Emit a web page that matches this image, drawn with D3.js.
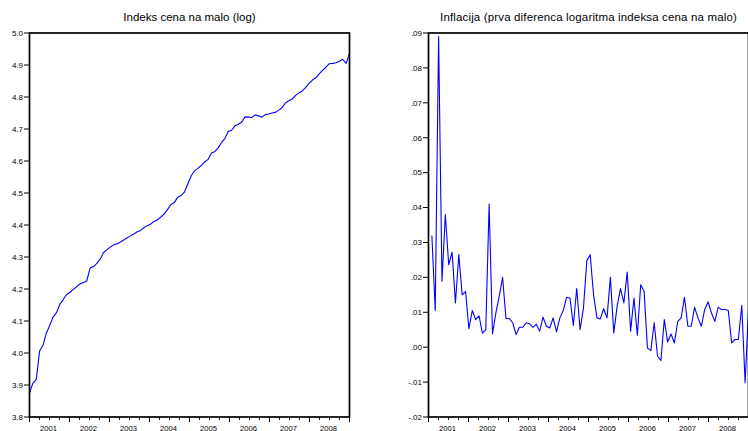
<!DOCTYPE html>
<html><head><meta charset="utf-8">
<script src="https://cdn.jsdelivr.net/npm/d3@7"></script>
<style>
body{margin:0;background:#fff}
svg{display:block}
text{font-family:"Liberation Sans",Arial,Helvetica,sans-serif;fill:#000}
</style>
</head><body>
<svg id="c" width="748" height="431"></svg>
<script>
// ---- data (monthly, 2001M01 .. 2008M12) ----
const years = ["2001","2002","2003","2004","2005","2006","2007","2008"];

const logIndex = [
 3.874,3.906,3.917,4.006,4.024,4.062,4.086,4.113,4.126,4.152,4.167,4.183,
 4.189,4.199,4.207,4.216,4.220,4.225,4.266,4.270,4.280,4.294,4.314,4.323,
 4.331,4.338,4.341,4.347,4.353,4.360,4.366,4.372,4.379,4.383,4.392,4.398,
 4.403,4.412,4.416,4.425,4.435,4.449,4.464,4.470,4.487,4.492,4.503,4.528,
 4.554,4.569,4.577,4.586,4.597,4.605,4.625,4.629,4.641,4.658,4.670,4.692,
 4.696,4.710,4.714,4.722,4.738,4.737,4.736,4.744,4.741,4.737,4.745,4.747,
 4.750,4.752,4.759,4.767,4.782,4.788,4.794,4.805,4.813,4.819,4.830,4.843,
 4.853,4.860,4.872,4.883,4.893,4.904,4.905,4.907,4.912,4.918,4.905,4.936
];

const inflation = [
 null,0.0320,0.0105,0.0890,0.0189,0.0380,0.0236,0.0272,0.0127,0.0265,0.0150,0.0160,
 0.0053,0.0105,0.0079,0.0090,0.0040,0.0050,0.0410,0.0038,0.0098,0.0146,0.0200,0.0082,
 0.0082,0.0070,0.0036,0.0057,0.0057,0.0070,0.0067,0.0057,0.0066,0.0046,0.0086,0.0060,
 0.0055,0.0084,0.0044,0.0084,0.0105,0.0143,0.0141,0.0062,0.0168,0.0050,0.0112,0.0248,
 0.0265,0.0150,0.0084,0.0081,0.0110,0.0084,0.0200,0.0041,0.0117,0.0168,0.0127,0.0215,
 0.0046,0.0141,0.0034,0.0179,0.0160,-0.0002,-0.0010,0.0070,-0.0026,-0.0038,0.0079,0.0015,
 0.0038,0.0012,0.0074,0.0084,0.0143,0.0060,0.0060,0.0114,0.0084,0.0060,0.0108,0.0130,
 0.0098,0.0074,0.0114,0.0108,0.0108,0.0105,0.0012,0.0022,0.0022,0.0120,-0.0102,0.0110
];

const leftTicks = [3.8,3.9,4.0,4.1,4.2,4.3,4.4,4.5,4.6,4.7,4.8,4.9,5.0];
const leftTickLabels = ["3.8","3.9","4.0","4.1","4.2","4.3","4.4","4.5","4.6","4.7","4.8","4.9","5.0"];
const rightTicks = [-0.02,-0.01,0.00,0.01,0.02,0.03,0.04,0.05,0.06,0.07,0.08,0.09];
const rightTickLabels = ["-.02","-.01",".00",".01",".02",".03",".04",".05",".06",".07",".08",".09"];

const leftTitle = "Indeks cena na malo (log)";
const rightTitle = "Inflacija (prva diferenca logaritma indeksa cena na malo)";

// ---- drawing ----
const svg = d3.select("#c");
svg.append("rect").attr("width",748).attr("height",431).attr("fill","#fff");

function panel(o){
  const g = svg.append("g");
  const yTop = 33, yBot = 417;
  const x = d3.scaleLinear().domain([0, o.values.length-1]).range([o.x0, o.x1]);
  const xYear = d3.scaleLinear().domain([2001, 2009]).range([o.x0, o.x1]);
  const y = d3.scaleLinear().domain(o.yDomain).range([yBot, yTop]);

  // title
  g.append("text").attr("x",(o.x0+o.x1)/2).attr("y",20.5)
    .attr("text-anchor","middle").attr("font-size","11.5px")
    .attr("letter-spacing", o.titleSpacing || 0).text(o.title);

  // data line
  const pts = o.values.map((v,i)=>({v,i})).filter(d=>d.v!=null);
  g.append("path").attr("d", d3.line().x(d=>x(d.i)).y(d=>y(d.v))(pts))
    .attr("fill","none").attr("stroke","#0000ff").attr("stroke-width",1.1)
    .attr("stroke-linejoin","round");

  // y axis ticks + labels
  o.ticks.forEach((t,k)=>{
    g.append("line").attr("x1",o.x0-5.5).attr("x2",o.x0).attr("y1",y(t)).attr("y2",y(t))
      .attr("stroke","#000").attr("stroke-width",1);
    g.append("text").attr("x",o.x0-6.5).attr("y",y(t)).attr("dy","0.35em")
      .attr("text-anchor","end").attr("font-size","8px").text(o.tickLabels[k]);
  });

  // x ticks: quarterly minor, yearly major
  d3.range(0, 33).forEach(q=>{
    const xv = xYear(2001 + q/4);
    const major = q%4===0;
    g.append("line").attr("x1",xv).attr("x2",xv).attr("y1",yBot).attr("y2",yBot+(major?5:2.8))
      .attr("stroke","#000").attr("stroke-width",1);
  });
  years.forEach((yr,k)=>{
    g.append("text").attr("x",(xYear(2001+k)+xYear(2002+k))/2-1).attr("y",430.5)
      .attr("text-anchor","middle").attr("font-size","7.6px").text(yr);
  });

  // frame
  g.append("rect").attr("x",o.x0).attr("y",yTop).attr("width",o.x1-o.x0).attr("height",yBot-yTop)
    .attr("fill","none").attr("stroke","#000").attr("stroke-width",1.7);
}

panel({x0:29.5, x1:349.5, values:logIndex, yDomain:[3.8,5.0],
       ticks:leftTicks, tickLabels:leftTickLabels, title:leftTitle});
panel({x0:428.5, x1:748.5, values:inflation, yDomain:[-0.02,0.09],
       ticks:rightTicks, tickLabels:rightTickLabels, title:rightTitle, titleSpacing:"0.15px"});
</script>
</body></html>
